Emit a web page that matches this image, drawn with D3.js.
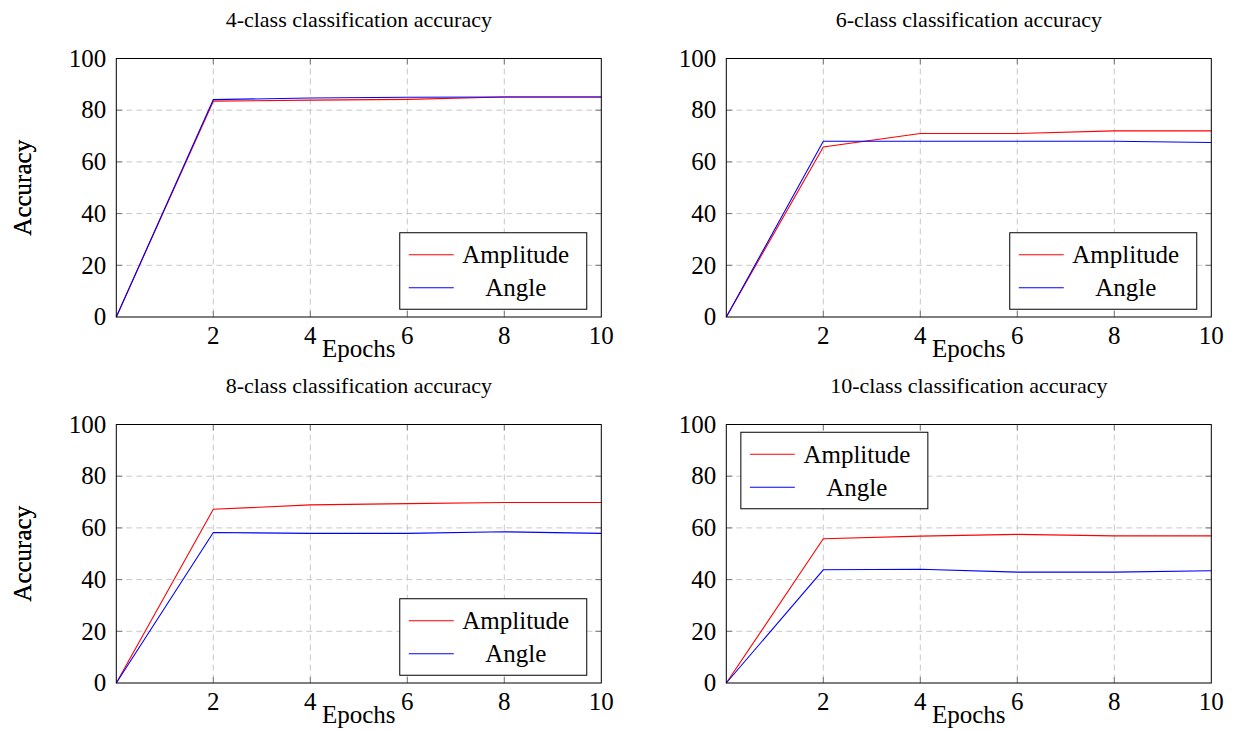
<!DOCTYPE html>
<html lang="en">
<head>
  <meta charset="UTF-8">
  <title>Classification accuracy</title>
  <script src="https://d3js.org/d3.v7.min.js"></script>
  <style>
    body { margin: 0; background: #fff; }
    text { font-family: "Liberation Serif", "Times New Roman", Times, serif; fill: #000; }
    .grid line { stroke: #c8c8c8; stroke-dasharray: 6,4; stroke-width: 1px; }
    .tick-mark { stroke: #777; stroke-width: 1px; }
    .frame { fill: none; stroke: #000; stroke-width: 1px; }
    .line { fill: none; stroke-width: 1.1px; }
  </style>
</head>
<body>
  <svg id="chart" width="1236" height="730"></svg>

  <script>
    // data
    const epochs = [0, 2, 4, 6, 8, 10];
    const titles = [
      "4-class classification accuracy",
      "6-class classification accuracy",
      "8-class classification accuracy",
      "10-class classification accuracy"
    ];
    const amplitude4 = [0, 83.5, 83.9, 84.2, 85.1, 85.1];
    const angle4 = [0, 84.1, 84.7, 85.0, 85.1, 85.1];
    const amplitude6 = [0, 65.8, 71.0, 71.0, 72.0, 72.0];
    const angle6 = [0, 68.0, 68.0, 68.0, 68.0, 67.5];
    const amplitude8 = [0, 67.2, 68.9, 69.4, 69.8, 69.8];
    const angle8 = [0, 58.2, 57.9, 57.9, 58.5, 57.9];
    const amplitude10 = [0, 55.8, 56.8, 57.5, 56.9, 56.9];
    const angle10 = [0, 43.8, 44.0, 42.9, 42.9, 43.4];
    const xTicks = [2, 4, 6, 8, 10];
    const yTicks = [0, 20, 40, 60, 80, 100];
    const seriesNames = ["Amplitude", "Angle"];
    const seriesColors = ["#ff0000", "#0000ff"];

    const panels = [
      {title: titles[0], series: [amplitude4, angle4], left: 116.3, top: 58.5, legend: "se"},
      {title: titles[1], series: [amplitude6, angle6], left: 726.3, top: 58.5, legend: "se"},
      {title: titles[2], series: [amplitude8, angle8], left: 116.3, top: 424.5, legend: "se"},
      {title: titles[3], series: [amplitude10, angle10], left: 726.3, top: 424.5, legend: "nw"}
    ];

    const width = 485;
    const height = 258.5;
    const svg = d3.select("#chart");

    panels.forEach(p => {
      const g = svg.append("g").attr("transform", `translate(${p.left},${p.top})`);

      const x = d3.scaleLinear().domain([0, 10]).range([0, width]);
      const y = d3.scaleLinear().domain([0, 100]).range([height, 0]);

      // grid
      const grid = g.append("g").attr("class", "grid");
      grid.selectAll(".gx").data(xTicks.filter(t => t < 10)).join("line")
        .attr("x1", d => x(d)).attr("x2", d => x(d))
        .attr("y1", 0).attr("y2", height);
      grid.selectAll(".gy").data(yTicks.filter(t => t > 0 && t < 100)).join("line")
        .attr("class", "gy")
        .attr("x1", 0).attr("x2", width)
        .attr("y1", d => y(d)).attr("y2", d => y(d));

      // tick marks inside on all four sides
      const tk = 6;
      xTicks.filter(t => t < 10).forEach(t => {
        g.append("line").attr("class", "tick-mark")
          .attr("x1", x(t)).attr("x2", x(t)).attr("y1", height).attr("y2", height - tk);
        g.append("line").attr("class", "tick-mark")
          .attr("x1", x(t)).attr("x2", x(t)).attr("y1", 0).attr("y2", tk);
      });
      yTicks.filter(t => t > 0 && t < 100).forEach(t => {
        g.append("line").attr("class", "tick-mark")
          .attr("x1", 0).attr("x2", tk).attr("y1", y(t)).attr("y2", y(t));
        g.append("line").attr("class", "tick-mark")
          .attr("x1", width).attr("x2", width - tk).attr("y1", y(t)).attr("y2", y(t));
      });

      // tick labels
      g.selectAll(".xl").data(xTicks).join("text")
        .attr("x", d => x(d)).attr("y", height + 27)
        .attr("text-anchor", "middle")
        .attr("font-size", 25)
        .text(d => d);
      g.selectAll(".yl").data(yTicks).join("text")
        .attr("class", "yl")
        .attr("x", -10).attr("y", d => y(d))
        .attr("dy", "0.33em")
        .attr("text-anchor", "end")
        .attr("font-size", 25)
        .text(d => d);

      // lines
      const line = d3.line().x((d, i) => x(epochs[i])).y(d => y(d));
      p.series.forEach((s, i) => {
        g.append("path").attr("class", "line")
          .attr("stroke", seriesColors[i])
          .attr("d", line(s));
      });

      g.append("rect").attr("class", "frame")
        .attr("width", width).attr("height", height);

      // titles and labels
      g.append("text")
        .attr("x", width / 2).attr("y", -31.5)
        .attr("text-anchor", "middle")
        .attr("font-size", 22)
        .text(p.title);
      g.append("text")
        .attr("x", width / 2).attr("y", height + 40)
        .attr("text-anchor", "middle")
        .attr("font-size", 25)
        .text("Epochs");
      g.append("text")
        .attr("transform", `translate(${31 - p.left},${height / 2}) rotate(-90)`)
        .attr("text-anchor", "middle")
        .attr("font-size", 25)
        .text("Accuracy");

      // legend
      const lw = 187, lh = 76.5;
      const lx = p.legend === "se" ? width * 0.97 - lw : width * 0.03;
      const ly = p.legend === "se" ? height * 0.97 - lh : height * 0.03;
      const lg = g.append("g").attr("transform", `translate(${lx},${ly})`);
      lg.append("rect").attr("width", lw).attr("height", lh)
        .attr("fill", "#fff").attr("stroke", "#000").attr("stroke-width", 1);
      seriesNames.forEach((name, i) => {
        const cy = 22 + i * 33;
        lg.append("line")
          .attr("x1", 9).attr("x2", 54).attr("y1", cy).attr("y2", cy)
          .attr("stroke", seriesColors[i]).attr("stroke-width", 1.1);
        lg.append("text")
          .attr("x", 116).attr("y", cy).attr("dy", "0.33em")
          .attr("text-anchor", "middle")
          .attr("font-size", 25)
          .text(name);
      });
    });
  </script>
</body>
</html>
